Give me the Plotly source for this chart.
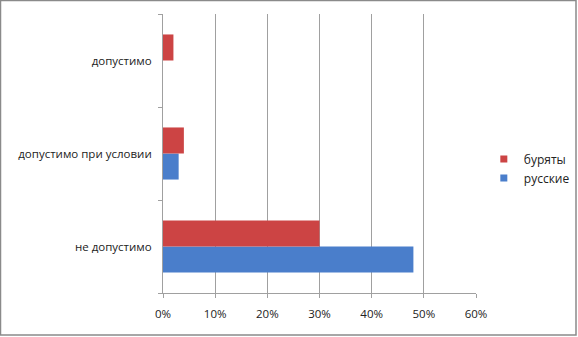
import plotly.graph_objects as go

categories = ["не допустимо", "допустимо при условии", "допустимо"]
buryats = [30, 4, 2]
russians = [48, 3, 0]
x_ticks = [0, 10, 20, 30, 40, 50, 60]
x_tick_labels = ["0%", "10%", "20%", "30%", "40%", "50%", "60%"]

BLUE = "#4a7ecb"
RED = "#cc4444"

W, H = 578, 337
L, R, T, B = 163, 102, 14, 44

fig = go.Figure()
fig.add_trace(go.Bar(y=categories, x=russians, orientation="h", name="русские",
                     showlegend=False, marker=dict(color=BLUE, line=dict(width=0))))
fig.add_trace(go.Bar(y=categories, x=buryats, orientation="h", name="буряты",
                     showlegend=False, marker=dict(color=RED, line=dict(width=0))))
# legend entries with small square markers
fig.add_trace(go.Scatter(x=[None], y=[None], mode="markers", name="буряты",
                         marker=dict(symbol="square", size=7, color=RED)))
fig.add_trace(go.Scatter(x=[None], y=[None], mode="markers", name="русские",
                         marker=dict(symbol="square", size=7, color=BLUE)))

pw = W - L - R
ph = H - T - B
fig.add_shape(type="rect", xref="paper", yref="paper",
              x0=(0.5 - L) / pw, x1=(W - 2 - L) / pw,
              y0=-(B - 2) / ph, y1=(ph + T - 0.5) / ph,
              line=dict(color="#8a8a8a", width=1.5), fillcolor="rgba(0,0,0,0)")

fig.update_layout(
    width=W, height=H,
    margin=dict(l=L, r=R, t=T, b=B, autoexpand=False),
    paper_bgcolor="white", plot_bgcolor="white",
    barmode="group", bargap=0.44, bargroupgap=0,
    font=dict(family="Open Sans, Liberation Sans, sans-serif", size=11.5, color="#222222"),
    legend=dict(x=1.025, y=0.446, xanchor="left", yanchor="middle",
                font=dict(size=12), itemwidth=30, itemsizing="trace",
                tracegroupgap=0, bgcolor="rgba(0,0,0,0)"),
    showlegend=True,
)
fig.update_xaxes(range=[0, 60], tickvals=x_ticks, ticktext=x_tick_labels,
                 showgrid=True, gridcolor="#a0a0a0", gridwidth=1,
                 showline=True, linecolor="#a0a0a0", ticks="outside", ticklen=4,
                 tickcolor="#a0a0a0", zeroline=False, ticklabelstandoff=6)
fig.update_yaxes(categoryorder="array", categoryarray=categories,
                 showline=True, linecolor="#a0a0a0", ticks="outside", ticklen=4,
                 tickcolor="#a0a0a0", tickson="boundaries", showgrid=False,
                 ticklabelstandoff=8)

fig.write_html("out.html")
